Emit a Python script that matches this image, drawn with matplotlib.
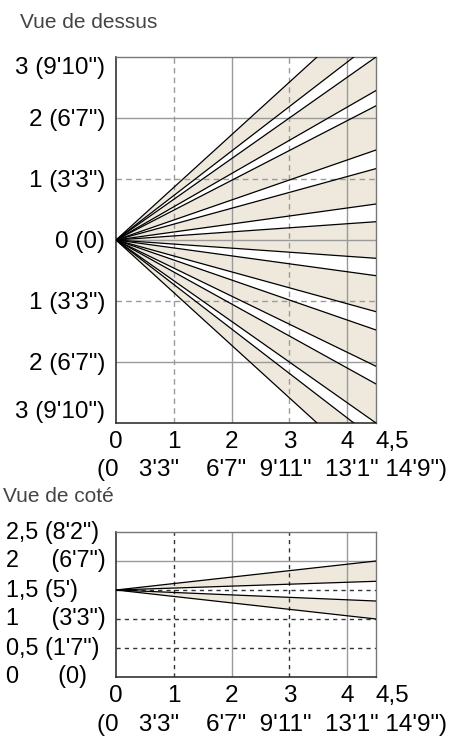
import matplotlib
matplotlib.use("Agg")
import matplotlib.pyplot as plt
import matplotlib.transforms as mtransforms

plt.rcParams['font.family'] = ['Liberation Sans', 'DejaVu Sans']

# ---------------- data ----------------
# Top view: y reached by each detection ray at x = 4.5 m (rays start at origin)
top_ray_ends = [3.88, 3.28, 3.0, 2.45, 2.2, 1.475, 1.17, 0.59, 0.30,
                -0.30, -0.585, -1.175, -1.475, -2.07, -2.36, -3.0, -3.28, -3.88]
# pairs of rays (indices) whose wedge is filled
top_bands = [(0, 1), (2, 3), (4, 5), (6, 7), (8, 9), (10, 11), (12, 13), (14, 15), (16, 17)]
top_yticks = [3, 2, 1, 0, -1, -2, -3]
top_ylabels = ["3 (9'10\")", "2 (6'7\")", "1 (3'3\")", "0 (0)",
               "1 (3'3\")", "2 (6'7\")", "3 (9'10\")"]

# Side view: sensor height and ray ends at x = 4.5 m
side_origin = 1.5
side_ray_ends = [2.0, 1.65, 1.31, 1.0]
side_bands = [(0, 1), (2, 3)]
side_yticks = [2.5, 2, 1.5, 1, 0.5, 0]
side_ylabels = ["2,5 (8'2\")", "2     (6'7\")", "1,5 (5')", "1     (3'3\")",
                "0,5 (1'7\")", "0      (0)"]

xticks = [0, 1, 2, 3, 4, 4.5]
xlabels = ["0", "1", "2", "3", "4", "4,5"]
x_feet_row = "(0   3'3\"    6'7\"  9'11\"  13'1\" 14'9\")"
x_max = 4.5

# ---------------- style ----------------
BEIGE = '#efe9dd'
GRID = '#9a9a9a'
FS = 17.5

W, H = 453, 738
fig = plt.figure(figsize=(W / 100, H / 100), dpi=100)


def px_axes(left, top, right, bottom):
    return fig.add_axes([left / W, 1 - bottom / H, (right - left) / W, (bottom - top) / H])


def style_axes(ax):
    for s in ['left', 'bottom']:
        ax.spines[s].set_color('#333333')
        ax.spines[s].set_linewidth(1.2)
    for s in ['top', 'right']:
        ax.spines[s].set_color('#777777')
        ax.spines[s].set_linewidth(1.0)
    ax.tick_params(length=0)


# ---------------- top view ----------------
ax1 = px_axes(116, 57, 376, 423)
ax1.set_xlim(0, x_max)
ax1.set_ylim(-3, 3)
for a, b in top_bands:
    ax1.fill([0, x_max, x_max], [0, top_ray_ends[a], top_ray_ends[b]],
             color=BEIGE, lw=0, zorder=1)
# grid
for xv in [1, 3]:
    ax1.axvline(xv, color=GRID, lw=1, ls=(0, (4, 3)), zorder=2)
for xv in [2, 4]:
    ax1.axvline(xv, color=GRID, lw=1, zorder=2)
for yv in [1, -1]:
    ax1.axhline(yv, color=GRID, lw=1, ls=(0, (4, 3)), zorder=2)
for yv in [2, 0, -2]:
    ax1.axhline(yv, color=GRID, lw=1, zorder=2)
for e in top_ray_ends:
    ax1.plot([0, x_max], [0, e], color='black', lw=0.9, zorder=3)
style_axes(ax1)
ax1.set_yticks(top_yticks)
ax1.set_yticklabels(top_ylabels, fontsize=FS)
ax1.tick_params(axis='y', pad=8)
yl = ax1.get_yticklabels()
yl[0].set_va('top')
yl[-1].set_va('bottom')
ax1.set_xticks(xticks)
ax1.set_xticklabels(xlabels, fontsize=FS)
ax1.tick_params(axis='x', pad=6)
ax1.get_xticklabels()[-1].set_ha('left')

fig.text(20 / W, 1 - 22 / H, "Vue de dessus", fontsize=15, color='#444444',
         ha='left', va='center')
fig.text(97 / W, 1 - 470 / H, x_feet_row, fontsize=FS, ha='left', va='center')

# ---------------- side view ----------------
ax2 = px_axes(116, 532, 376, 677)
ax2.set_xlim(0, x_max)
ax2.set_ylim(0, 2.5)
for a, b in side_bands:
    ax2.fill([0, x_max, x_max], [side_origin, side_ray_ends[a], side_ray_ends[b]],
             color=BEIGE, lw=0, zorder=1)
for xv in [1, 3]:
    ax2.axvline(xv, color='#333333', lw=1, ls=(0, (3, 3)), zorder=2)
for xv in [2, 4]:
    ax2.axvline(xv, color=GRID, lw=1, zorder=2)
for yv in [1.5, 1, 0.5]:
    ax2.axhline(yv, color='#333333', lw=1, ls=(0, (3, 3)), zorder=2)
ax2.axhline(2, color=GRID, lw=1, zorder=2)
for e in side_ray_ends:
    ax2.plot([0, x_max], [side_origin, e], color='black', lw=0.9, zorder=3)
style_axes(ax2)
ax2.set_yticks(side_yticks)
ax2.set_yticklabels([])
trans = mtransforms.blended_transform_factory(fig.transFigure, ax2.transData)
for yv, lab in zip(side_yticks, side_ylabels):
    fig.text(6 / W, yv, lab, fontsize=16.8, ha='left', va='center', transform=trans)
ax2.set_xticks(xticks)
ax2.set_xticklabels(xlabels, fontsize=FS)
ax2.tick_params(axis='x', pad=6)
ax2.get_xticklabels()[-1].set_ha('left')

fig.text(3 / W, 1 - 497 / H, "Vue de coté", fontsize=15, color='#444444',
         ha='left', va='center')
fig.text(97 / W, 1 - 725 / H, x_feet_row, fontsize=FS, ha='left', va='center')

fig.savefig("out.png", dpi=100)
